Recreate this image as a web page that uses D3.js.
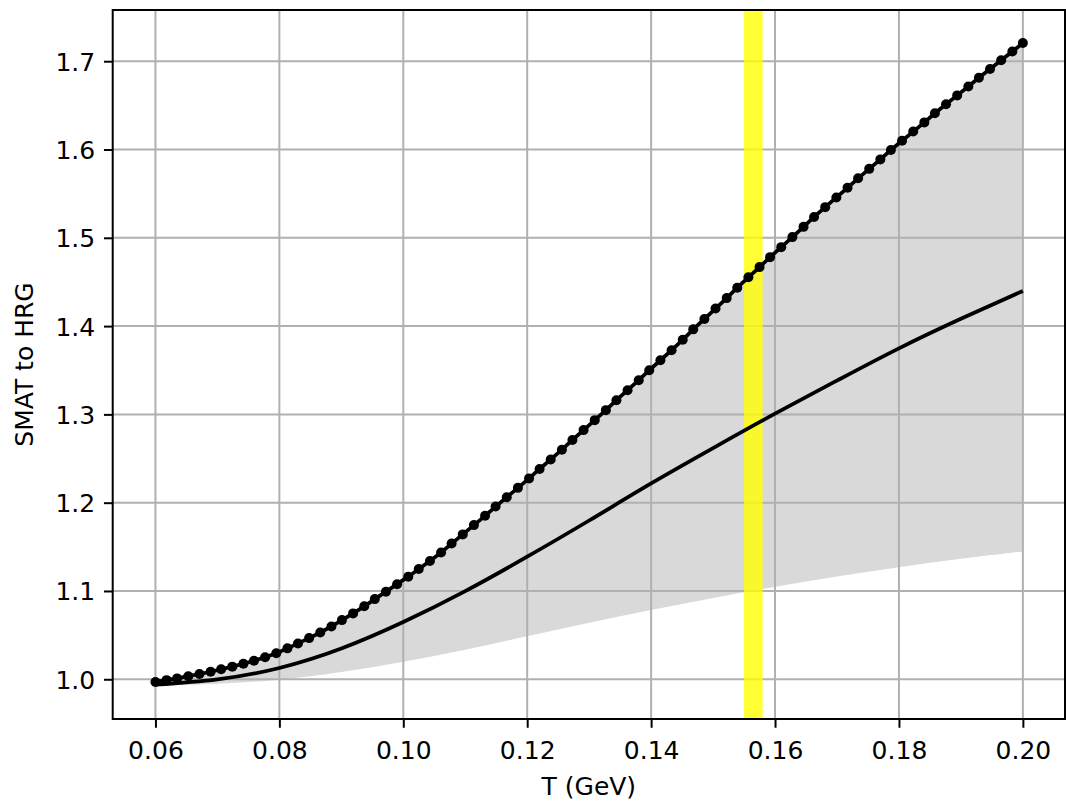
<!DOCTYPE html>
<html>
<head>
<meta charset="utf-8">
<script src="https://cdn.jsdelivr.net/npm/d3@7"></script>
<style>
  body { margin: 0; background: #fff; }
  svg { display: block; font-family: "DejaVu Sans", sans-serif; }
</style>
</head>
<body>
<svg id="chart"></svg>
<script>
// temperatures of the dotted curve (GeV)
const temps = [
  0.0600, 0.0618, 0.0635, 0.0653, 0.0671, 0.0689, 0.0706, 0.0724, 0.0742, 0.0759,
  0.0777, 0.0795, 0.0813, 0.0830, 0.0848, 0.0866, 0.0884, 0.0901, 0.0919, 0.0937,
  0.0954, 0.0972, 0.0990, 0.1008, 0.1025, 0.1043, 0.1061, 0.1078, 0.1096, 0.1114,
  0.1132, 0.1149, 0.1167, 0.1185, 0.1203, 0.1220, 0.1238, 0.1256, 0.1273, 0.1291,
  0.1309, 0.1327, 0.1344, 0.1362, 0.1380, 0.1397, 0.1415, 0.1433, 0.1451, 0.1468,
  0.1486, 0.1504, 0.1522, 0.1539, 0.1557, 0.1575, 0.1592, 0.1610, 0.1628, 0.1646,
  0.1663, 0.1681, 0.1699, 0.1717, 0.1734, 0.1752, 0.1770, 0.1787, 0.1805, 0.1823,
  0.1841, 0.1858, 0.1876, 0.1894, 0.1912, 0.1929, 0.1947, 0.1965, 0.1983, 0.2000
];
// upper curve (dots), also top edge of the grey band
const upper = [
  0.9970, 0.9990, 1.0010, 1.0035, 1.0060, 1.0085, 1.0113, 1.0143, 1.0175, 1.0210,
  1.0250, 1.0295, 1.0350, 1.0406, 1.0466, 1.0530, 1.0598, 1.0670, 1.0746, 1.0826,
  1.0908, 1.0992, 1.1077, 1.1162, 1.1248, 1.1340, 1.1436, 1.1537, 1.1641, 1.1746,
  1.1851, 1.1956, 1.2062, 1.2168, 1.2275, 1.2382, 1.2490, 1.2600, 1.2710, 1.2822,
  1.2935, 1.3048, 1.3161, 1.3274, 1.3387, 1.3500, 1.3613, 1.3727, 1.3845, 1.3963,
  1.4081, 1.4199, 1.4317, 1.4435, 1.4553, 1.4668, 1.4781, 1.4894, 1.5008, 1.5124,
  1.5236, 1.5347, 1.5457, 1.5566, 1.5674, 1.5781, 1.5888, 1.5994, 1.6099, 1.6203,
  1.6307, 1.6410, 1.6512, 1.6613, 1.6713, 1.6813, 1.6912, 1.7011, 1.7109, 1.7207
];

// solid central curve and lower edge of the band
const lineT = [0.06, 0.07, 0.08, 0.09, 0.10, 0.11, 0.12, 0.13, 0.14, 0.15, 0.16, 0.17, 0.18, 0.19, 0.20];
const central = [0.9938, 0.9998, 1.0128, 1.0348, 1.0648, 1.0998, 1.1388, 1.1798, 1.2218, 1.2618, 1.3008, 1.3383, 1.3748, 1.4083, 1.4398];
const lower = [0.9928, 0.9950, 0.9995, 1.0082, 1.0198, 1.0335, 1.0487, 1.0640, 1.0784, 1.0920, 1.1047, 1.1164, 1.1270, 1.1365, 1.1448];

const bandT = [0.155, 0.158];

const xTicks = [0.06, 0.08, 0.10, 0.12, 0.14, 0.16, 0.18, 0.20];
const yTicks = [1.0, 1.1, 1.2, 1.3, 1.4, 1.5, 1.6, 1.7];

const w = 1066, h = 804;
const padL = 112.7, padR = 1065, padT = 10, padB = 719;

const x = d3.scaleLinear().domain([0.0531, 0.2068]).range([padL, padR]);
const y = d3.scaleLinear().domain([0.955, 1.758]).range([padB, padT]);

const svg = d3.select("#chart").attr("width", w).attr("height", h);

const upPts = temps.map((t, i) => [x(t), y(upper[i])]);
const lowPts = lineT.map((t, i) => [x(t), y(lower[i])]);
const midPts = lineT.map((t, i) => [x(t), y(central[i])]);

// grey band: dotted curve on top, lower edge going back
const smooth = d3.line().curve(d3.curveCatmullRom);
const bandPath = smooth(upPts) + smooth(lowPts.slice().reverse()).replace(/^M/, "L") + "Z";
svg.append("path")
  .attr("d", bandPath)
  .attr("fill", "grey")
  .attr("fill-opacity", 0.3);

// grid
svg.append("g")
  .selectAll("line")
  .data(xTicks)
  .enter()
  .append("line")
  .attr("x1", d => x(d)).attr("x2", d => x(d))
  .attr("y1", padT).attr("y2", padB)
  .attr("stroke", "#b0b0b0").attr("stroke-width", 2);
svg.append("g")
  .selectAll("line")
  .data(yTicks)
  .enter()
  .append("line")
  .attr("x1", padL).attr("x2", padR)
  .attr("y1", d => y(d)).attr("y2", d => y(d))
  .attr("stroke", "#b0b0b0").attr("stroke-width", 2);

// yellow span
svg.append("rect")
  .attr("x", x(bandT[0]))
  .attr("width", x(bandT[1]) - x(bandT[0]))
  .attr("y", padT)
  .attr("height", padB - padT)
  .attr("fill", "yellow")
  .attr("fill-opacity", 0.8);

// central line
svg.append("path")
  .attr("d", d3.line().curve(d3.curveNatural)(midPts))
  .attr("fill", "none")
  .attr("stroke", "black")
  .attr("stroke-width", 3.75);

// dotted upper curve
svg.append("path")
  .attr("d", d3.line()(upPts))
  .attr("fill", "none")
  .attr("stroke", "black")
  .attr("stroke-width", 3.75);

svg.append("g")
  .selectAll("circle")
  .data(temps)
  .enter()
  .append("circle")
  .attr("cx", d => x(d))
  .attr("cy", (d, i) => y(upper[i]))
  .attr("r", 5)
  .attr("fill", "black");

// axes
const xAxis = d3.axisBottom(x)
  .tickValues(xTicks)
  .tickFormat(d3.format(".2f"))
  .tickSize(8.75)
  .tickPadding(8.75);
const yAxis = d3.axisLeft(y)
  .tickValues(yTicks)
  .tickFormat(d3.format(".1f"))
  .tickSize(8.75)
  .tickPadding(8.75);

svg.append("g")
  .attr("transform", "translate(0," + padB + ")")
  .call(xAxis)
  .call(g => g.select(".domain").remove())
  .call(g => g.selectAll(".tick line").attr("stroke", "black").attr("stroke-width", 2))
  .call(g => g.selectAll(".tick text")
    .attr("dy", "0.9em")
    .attr("fill", "black")
    .style("font-size", "25px")
    .style("font-family", "DejaVu Sans"));

svg.append("g")
  .attr("transform", "translate(" + padL + ",0)")
  .call(yAxis)
  .call(g => g.select(".domain").remove())
  .call(g => g.selectAll(".tick line").attr("stroke", "black").attr("stroke-width", 2))
  .call(g => g.selectAll(".tick text")
    .attr("dy", "0.36em")
    .attr("fill", "black")
    .style("font-size", "25px")
    .style("font-family", "DejaVu Sans"));

// frame
svg.append("rect")
  .attr("x", padL).attr("y", padT)
  .attr("width", padR - padL).attr("height", padB - padT)
  .attr("fill", "none")
  .attr("stroke", "black")
  .attr("stroke-width", 2);

// labels
svg.append("text")
  .attr("x", (padL + padR) / 2)
  .attr("y", 795)
  .attr("text-anchor", "middle")
  .style("font-size", "25px")
  .text("T (GeV)");

svg.append("text")
  .attr("transform", "translate(33," + (padT + padB) / 2 + ") rotate(-90)")
  .attr("text-anchor", "middle")
  .style("font-size", "25px")
  .text("SMAT to HRG");
</script>
</body>
</html>
